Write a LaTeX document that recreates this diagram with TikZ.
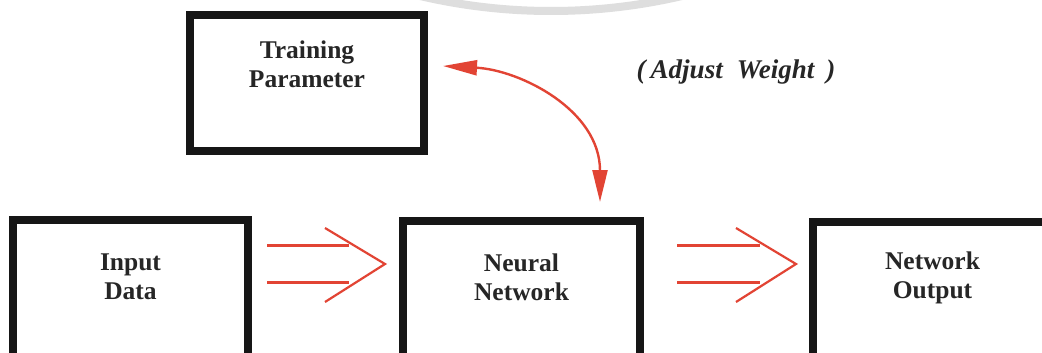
\documentclass[tikz,border=0pt]{standalone}
\usepackage{fontspec}
\setmainfont{Liberation Serif}
\usetikzlibrary{arrows.meta,calc}
\definecolor{arrred}{RGB}{226,68,52}
\definecolor{boxblack}{RGB}{22,22,22}
\definecolor{wmgray}{RGB}{222,222,222}
\definecolor{txtgray}{RGB}{38,38,38}
\newcommand\dblarrow[2]{%
  \draw[redthin] ($(#1)+(0,-18.5)$) -- ($(#2)+(-36,-18.5)$);
  \draw[redthin] ($(#1)+(0,18.5)$) -- ($(#2)+(-36,18.5)$);
  \draw[redthin,line join=miter] ($(#2)+(-60,-36)$) -- (#2) -- ($(#2)+(-60,38)$);}
\begin{document}
\begin{tikzpicture}[x=1pt,y=-1pt,
  box/.style={draw=boxblack,line width=8pt,fill=white,rectangle,inner sep=0pt},
  boxtext/.style={align=center,text=txtgray,font=\fontsize{25.5}{29}\selectfont\bfseries,inner sep=0pt},
  notetext/.style={text=txtgray,font=\fontsize{27}{30}\selectfont\bfseries\itshape,inner sep=0pt},
  redthin/.style={draw=arrred,line width=2.2pt},
  redcurve/.style={draw=arrred,line width=2.4pt}]
\useasboundingbox (0,0) rectangle (1042,353);
\clip (0,0) rectangle (1042,353);
\fill[white] (0,0) rectangle (1042,353);
% faint watermark arc
\draw[wmgray,line width=8pt] (551,-563) circle[radius=574];
% boxes
\node[box,minimum width=234pt,minimum height=136pt] (tp) at (307,83) {};
\node[box,minimum width=235pt,minimum height=150pt] (in) at (130.5,295) {};
\node[box,minimum width=237pt,minimum height=150pt] (nn) at (521.5,296) {};
\node[box,minimum width=247pt,minimum height=150pt] (out) at (936.5,297) {};
% texts
\node[boxtext] (tpt) at ($(tp.center)+(0,-19)$) {Training\\Parameter};
\node[boxtext] (int) at ($(in.center)+(0,-18)$) {Input\\Data};
\node[boxtext] (nnt) at ($(nn.center)+(0,-19)$) {Neural\\Network};
\node[boxtext] (outt) at ($(out.center)+(-4,-19)$) {Network\\Output};
\node[notetext] (adj) at (736,72) {(\hspace{5pt}Adjust\hspace{14pt}Weight\hspace{12pt})};
% double arrows
\coordinate (a1s) at ([xshift=15pt,yshift=-48pt]in.north east);
\coordinate (a1t) at ([xshift=-14pt,yshift=-47pt]nn.north west);
\coordinate (a2s) at ([xshift=33pt,yshift=-47pt]nn.north east);
\coordinate (a2t) at ([xshift=-13pt,yshift=-46pt]out.north west);
\dblarrow{a1s}{a1t}
\dblarrow{a2s}{a2t}
% curved feedback arrow
\coordinate (c1) at ([xshift=15pt,yshift=17pt]tp.east);
\coordinate (c2) at ([xshift=78.5pt,yshift=15pt]nn.north);
\draw[redcurve,{Triangle[length=34pt,width=15pt]}-{Triangle[length=32pt,width=15pt]}]
  (c1) .. controls +(77,4) and +(0,-92) .. (c2);
\end{tikzpicture}
\end{document}
